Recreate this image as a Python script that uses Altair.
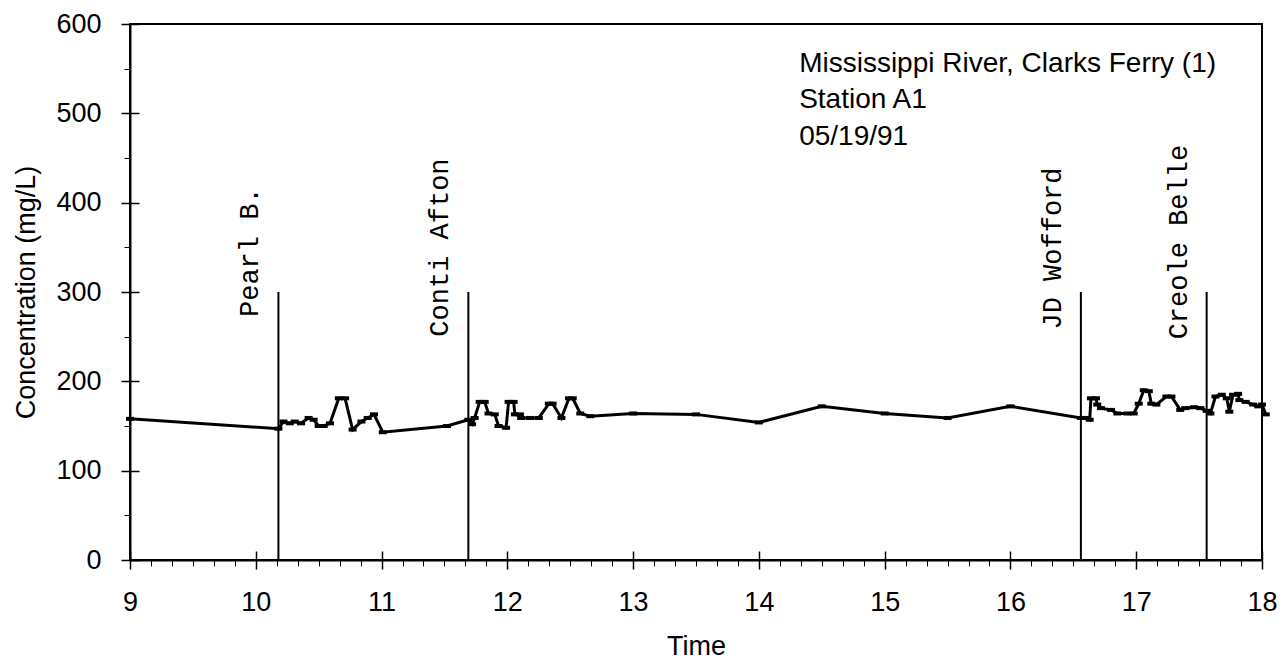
import altair as alt
import pandas as pd

# ---- data ----
time_h = [9.00, 10.18, 10.22, 10.27, 10.31, 10.36, 10.42, 10.46, 10.50, 10.54, 10.59,
          10.66, 10.71, 10.77, 10.84, 10.89, 10.94, 11.01, 11.52, 11.69, 11.72, 11.74,
          11.78, 11.82, 11.85, 11.90, 11.93, 11.99, 12.01, 12.05, 12.06, 12.10, 12.11,
          12.18, 12.25, 12.33, 12.36, 12.43, 12.49, 12.52, 12.58, 12.66, 13.00, 13.50,
          14.00, 14.50, 15.00, 15.50, 16.00, 16.56, 16.61, 16.63, 16.64, 16.68, 16.69,
          16.72, 16.80, 16.85, 16.93, 16.98, 17.02, 17.06, 17.10, 17.12, 17.16, 17.24,
          17.28, 17.35, 17.39, 17.46, 17.51, 17.56, 17.59, 17.63, 17.68, 17.72, 17.74,
          17.77, 17.81, 17.82, 17.87, 17.93, 17.97, 18.00, 18.03]
conc_mg_l = [158, 147, 155, 153, 155, 153, 159, 157, 150, 150, 153,
             181, 181, 146, 155, 159, 163, 143, 150, 157, 152, 159,
             177, 177, 164, 163, 150, 148, 177, 177, 163, 163, 159,
             159, 159, 175, 175, 159, 181, 181, 164, 161, 164, 163,
             154, 172, 164, 159, 172, 159, 159, 157, 181, 181, 174,
             170, 168, 164, 164, 164, 175, 190, 189, 175, 174, 183,
             183, 168, 170, 171, 170, 167, 164, 183, 185, 181, 166,
             185, 186, 179, 177, 174, 172, 174, 163]

boat_names = ["Pearl B.", "Conti Afton", "JD Wofford", "Creole Belle"]
boat_times = [10.18, 11.69, 16.56, 17.56]
boat_line_bottom = [0, 0, 0, 0]
boat_line_top = [300, 300, 300, 300]
boat_label_y = [272, 250, 258, 247]

note_lines = ["Mississippi River, Clarks Ferry (1)", "Station A1", "05/19/91"]
note_x = [14.32, 14.32, 14.32]
note_y = [546, 506, 465]

x_major = [9, 10, 11, 12, 13, 14, 15, 16, 17, 18]
x_minor = [9 + i / 6 for i in range(55)]
y_major = [0, 100, 200, 300, 400, 500, 600]
y_minor = [50, 150, 250, 350, 450, 550]

# ---- tables ----
df = pd.DataFrame({"t": time_h, "c": conc_mg_l})
boats = pd.DataFrame({"name": boat_names, "t": boat_times, "b": boat_line_bottom,
                      "top": boat_line_top, "ly": boat_label_y})
notes = pd.DataFrame({"text": note_lines, "t": note_x, "c": note_y})

FONT = "Liberation Sans"
FS = 27
xs = alt.Scale(domain=[9, 18], nice=False, zero=False)
ys = alt.Scale(domain=[0, 600], nice=False, zero=True)

main_x = alt.Axis(orient="bottom", values=x_major, format="d", tickSize=9, tickWidth=1.5,
                  tickColor="black", domainColor="black", domainWidth=2, grid=False,
                  labelFont=FONT, labelFontSize=FS, labelColor="black", labelPadding=20,
                  labelFlush=False, labelOverlap=False,
                  title="Time", titleFont=FONT, titleFontSize=FS, titleFontWeight="normal",
                  titleColor="black", titlePadding=18)
main_y = alt.Axis(orient="left", values=y_major, format="d", tickSize=9, tickWidth=1.5,
                  tickColor="black", domainColor="black", domainWidth=2, grid=False,
                  labelFont=FONT, labelFontSize=FS, labelColor="black", labelPadding=20,
                  labelFlush=False, labelOverlap=False,
                  title="Concentration (mg/L)", titleFont=FONT, titleFontSize=FS,
                  titleFontWeight="normal", titleColor="black", titlePadding=15)
minor_x = alt.Axis(orient="bottom", values=x_minor, tickSize=6, tickWidth=1, tickColor="black",
                   labels=False, domain=False, grid=False, title="")
minor_y = alt.Axis(orient="left", values=y_minor, tickSize=6, tickWidth=1, tickColor="black",
                   labels=False, domain=False, grid=False, title="")
in_x = alt.Axis(orient="bottom", values=x_major, offset=-9, tickSize=9, tickWidth=1.5,
                tickColor="black", labels=False, domain=False, grid=False, title="")
in_y = alt.Axis(orient="left", values=y_major, offset=-9, tickSize=9, tickWidth=1.5,
                tickColor="black", labels=False, domain=False, grid=False, title="")

line = alt.Chart(df).mark_line(color="black", strokeWidth=3).encode(
    x=alt.X("t:Q", scale=xs, axis=main_x),
    y=alt.Y("c:Q", scale=ys, axis=main_y),
)
pts = alt.Chart(df).mark_point(shape="M-1,-0.5L1,-0.5L1,0.5L-1,0.5Z", filled=True,
                               color="black", size=64, opacity=1).encode(
    x=alt.X("t:Q", scale=xs, axis=minor_x),
    y=alt.Y("c:Q", scale=ys, axis=minor_y),
)
rules = alt.Chart(boats).mark_rule(color="black", strokeWidth=2).encode(
    x=alt.X("t:Q", scale=xs, axis=in_x),
    y=alt.Y("b:Q", scale=ys, axis=in_y),
    y2="top:Q",
)
labels = alt.Chart(boats).transform_calculate(lx="datum.t - 0.16").mark_text(
    angle=270, align="left", baseline="alphabetic", font="Liberation Mono",
    fontSize=27, color="black").encode(
    x=alt.X("lx:Q", scale=xs, axis=None),
    y=alt.Y("ly:Q", scale=ys, axis=None),
    text="name:N",
)
note = alt.Chart(notes).mark_text(align="left", baseline="alphabetic", font=FONT,
                                  fontSize=28, color="black").encode(
    x=alt.X("t:Q", scale=xs, axis=None),
    y=alt.Y("c:Q", scale=ys, axis=None),
    text="text:N",
)

chart = alt.layer(line, pts, rules, labels, note).resolve_axis(
    x="independent", y="independent"
).properties(
    width=1132, height=536,
    autosize=alt.AutoSizeParams(type="none"),
    padding={"left": 122, "top": 16, "right": 15, "bottom": 102},
    background="white",
).configure_view(stroke="black", strokeWidth=2)

chart.save("out.html", embed_options={"renderer": "svg", "actions": False})
